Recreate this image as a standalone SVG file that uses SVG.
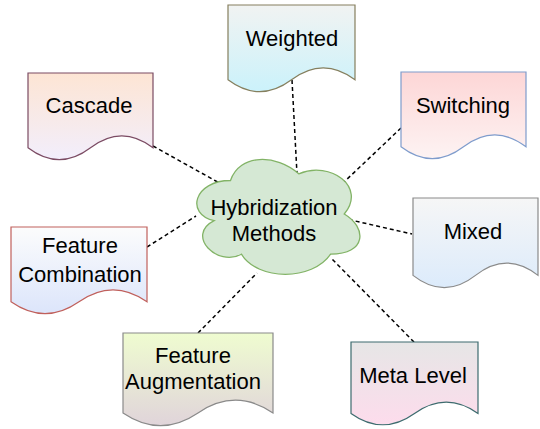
<svg xmlns="http://www.w3.org/2000/svg" width="540" height="429" viewBox="0 0 540 429">
<defs>
<linearGradient id="gW" x1="0" y1="0" x2="0" y2="1"><stop offset="0" stop-color="#f1f3f2"/><stop offset="1" stop-color="#cbf2fb"/></linearGradient>
<linearGradient id="gC" x1="0" y1="0" x2="0" y2="1"><stop offset="0" stop-color="#fde5d4"/><stop offset="1" stop-color="#f2eefc"/></linearGradient>
<linearGradient id="gS" x1="0" y1="0" x2="0" y2="1"><stop offset="0" stop-color="#fdd6d6"/><stop offset="1" stop-color="#fdf3f3"/></linearGradient>
<linearGradient id="gM" x1="0" y1="0" x2="0" y2="1"><stop offset="0" stop-color="#f6f6f6"/><stop offset="1" stop-color="#dcebfb"/></linearGradient>
<linearGradient id="gF" x1="0" y1="0" x2="0" y2="1"><stop offset="0" stop-color="#fcfcfc"/><stop offset="1" stop-color="#dce5fb"/></linearGradient>
<linearGradient id="gA" x1="0" y1="0" x2="0" y2="1"><stop offset="0" stop-color="#effcd0"/><stop offset="1" stop-color="#e0d4da"/></linearGradient>
<linearGradient id="gL" x1="0" y1="0" x2="0" y2="1"><stop offset="0" stop-color="#e6e6e6"/><stop offset="1" stop-color="#fddcec"/></linearGradient>
</defs>
<style>
.lbl{font-family:"Liberation Sans",Arial,sans-serif;font-size:22px;fill:#000;text-anchor:middle}
.doc{stroke-width:1.2}
.con line{stroke:#000;stroke-width:1.5;stroke-dasharray:4 3;fill:none}
</style>
<rect width="540" height="429" fill="#fff"/>
<g id="connectors" class="con">
<line x1="292" y1="80" x2="297" y2="174"/>
<line x1="153" y1="146" x2="223" y2="185"/>
<line x1="401" y1="128" x2="343" y2="183"/>
<line x1="342" y1="218" x2="412" y2="234"/>
<line x1="147" y1="247" x2="196" y2="216"/>
<line x1="198" y1="333" x2="257" y2="273"/>
<line x1="414" y1="342" x2="332" y2="259"/>
</g>
<g id="cloud">
<path d="M230.5,180.5 C194.1,180.5 185,214 214.12,220.7 C185,235.44 217.76,267.6 241.42,254.2 C257.8,281 312.4,281 330.6,254.2 C367,254.2 367,227.4 344.25,214 C367,187.2 330.6,160.4 298.75,173.8 C276,153.7 239.6,153.7 230.5,180.5 Z" fill="#d5e8d4" stroke="#82b366" stroke-width="1.3"/>
<text class="lbl" x="274" y="215">Hybridization</text>
<text class="lbl" x="274" y="241">Methods</text>
</g>
<g id="weighted" transform="translate(228,5)">
<path class="doc" d="M0,0 H127 V74.8 Q95.25,51.04 63.5,74.8 Q31.75,98.56 0,74.8 Z" fill="url(#gW)" stroke="#857f5e"/>
<text class="lbl" x="64" y="41">Weighted</text>
</g>
<g id="cascade" transform="translate(28,73)">
<path class="doc" d="M0,0 H125 V74.8 Q93.75,51.04 62.5,74.8 Q31.25,98.56 0,74.8 Z" fill="url(#gC)" stroke="#7b4b63"/>
<text class="lbl" x="61" y="40">Cascade</text>
</g>
<g id="switching" transform="translate(401,72)">
<path class="doc" d="M0,0 H125 V74.8 Q93.75,51.04 62.5,74.8 Q31.25,98.56 0,74.8 Z" fill="url(#gS)" stroke="#7f9ccc"/>
<text class="lbl" x="62" y="41">Switching</text>
</g>
<g id="mixed" transform="translate(413,198)">
<path class="doc" d="M0,0 H125 V77.35 Q93.75,52.78 62.5,77.35 Q31.25,101.92 0,77.35 Z" fill="url(#gM)" stroke="#8a8a8a"/>
<text class="lbl" x="60" y="41">Mixed</text>
</g>
<g id="feature-combination" transform="translate(11,227)">
<path class="doc" d="M0,0 H136 V74.8 Q102,51.04 68,74.8 Q34,98.56 0,74.8 Z" fill="url(#gF)" stroke="#c0605c"/>
<text class="lbl" x="69" y="26">Feature</text>
<text class="lbl" x="69" y="55">Combination</text>
</g>
<g id="feature-augmentation" transform="translate(123,333)">
<path class="doc" d="M0,0 H150 V79.9 Q112.5,54.52 75,79.9 Q37.5,105.28 0,79.9 Z" fill="url(#gA)" stroke="#8a8a8a"/>
<text class="lbl" x="70" y="30">Feature</text>
<text class="lbl" x="70" y="56">Augmentation</text>
</g>
<g id="meta-level" transform="translate(351,342)">
<path class="doc" d="M0,0 H127 V71.4 Q95.25,48.72 63.5,71.4 Q31.75,94.08 0,71.4 Z" fill="url(#gL)" stroke="#3d6b6e"/>
<text class="lbl" x="62" y="41">Meta Level</text>
</g>
</svg>
